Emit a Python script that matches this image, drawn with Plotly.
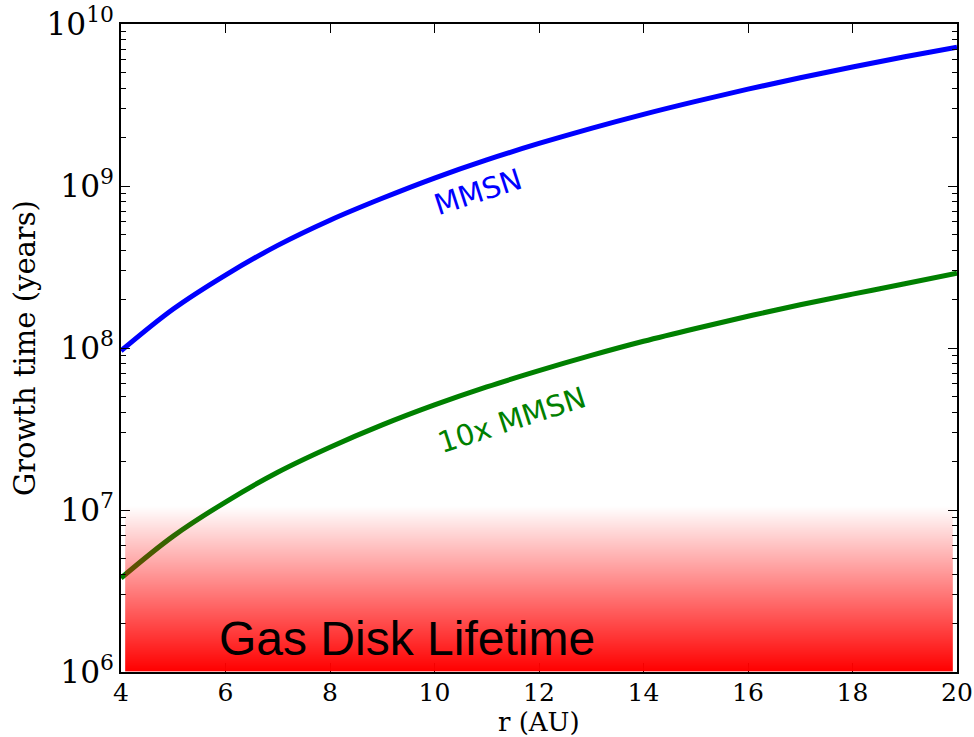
import base64
import struct
import zlib

import plotly.graph_objects as go

# Orbital radius (AU)
r_au = [4, 5, 6, 7, 8, 9, 10, 11, 12, 13, 14, 15, 16, 17, 18, 19, 20]

# Growth time (years) for the minimum-mass solar nebula
t_mmsn = [9.6e7, 1.74e8, 2.82e8, 4.3e8, 6.15e8, 8.4e8, 1.12e9, 1.45e9, 1.83e9,
          2.27e9, 2.77e9, 3.33e9, 3.96e9, 4.66e9, 5.43e9, 6.28e9, 7.2e9]

# Growth time (years) for a nebula ten times more massive
t_10x = [3.8e6, 6.9e6, 1.12e7, 1.71e7, 2.44e7, 3.35e7, 4.45e7, 5.75e7, 7.25e7,
         9.0e7, 1.1e8, 1.32e8, 1.57e8, 1.85e8, 2.15e8, 2.49e8, 2.9e8]

x_ticks = [4, 6, 8, 10, 12, 14, 16, 18, 20]


def gradient_png(width, height):
    """Vertical red band: opaque at the bottom, transparent at the top."""
    raw = bytearray()
    for row in range(height):
        alpha = int(round(255 * row / (height - 1)))
        raw.append(0)
        raw.extend(bytes([255, 0, 0, alpha]) * width)

    def chunk(tag, data):
        c = struct.pack(">I", len(data)) + tag + data
        return c + struct.pack(">I", zlib.crc32(tag + data) & 0xFFFFFFFF)

    png = b"\x89PNG\r\n\x1a\n"
    png += chunk(b"IHDR", struct.pack(">IIBBBBB", width, height, 8, 6, 0, 0, 0))
    png += chunk(b"IDAT", zlib.compress(bytes(raw), 9))
    png += chunk(b"IEND", b"")
    return "data:image/png;base64," + base64.b64encode(png).decode()


serif = "DejaVu Serif"
sans = "DejaVu Sans"

fig = go.Figure()
fig.add_trace(go.Scatter(x=r_au, y=t_mmsn, mode="lines",
                         line=dict(color="#0000ff", width=5, shape="spline"),
                         showlegend=False))
fig.add_trace(go.Scatter(x=r_au, y=t_10x, mode="lines",
                         line=dict(color="#008000", width=5, shape="spline"),
                         showlegend=False))

# Gas disk lifetime band, drawn over the curves
fig.add_layout_image(dict(
    source=gradient_png(4, 256),
    xref="paper", yref="paper",
    x=0.005, y=0.257, sizex=0.99, sizey=0.256,
    xanchor="left", yanchor="top",
    sizing="stretch", layer="above",
))

label_anchor = dict(xref="paper", yref="paper", showarrow=False,
                    xanchor="center", yanchor="middle", borderpad=0)
fig.add_annotation(x=0.342, y=0.052, text="Gas Disk Lifetime",
                   font=dict(family="Liberation Sans", size=48, color="black"),
                   **label_anchor)
fig.add_annotation(x=0.4270, y=0.740, text="MMSN", textangle=-18,
                   font=dict(family=sans, size=29, color="#0000ff"),
                   **label_anchor)
fig.add_annotation(x=0.4677, y=0.389, text="10x MMSN", textangle=-18,
                   font=dict(family=sans, size=29, color="#008000"),
                   **label_anchor)
# x-axis title, placed just below the tick labels
fig.add_annotation(x=0.5, y=-0.0775, text="r (AU)",
                   font=dict(family=serif, size=26, color="black"),
                   **label_anchor)

axis_common = dict(
    showline=True, linecolor="black", linewidth=2, mirror="allticks",
    ticks="inside", ticklen=9, tickwidth=1.2, tickcolor="black",
    showgrid=False, zeroline=False, automargin=False,
    tickfont=dict(family=serif, size=25, color="black"),
)

fig.update_xaxes(
    range=[4, 20], tickvals=x_ticks, ticktext=[str(v) for v in x_ticks],
    ticklabelstandoff=-3,
    **axis_common,
)
fig.update_yaxes(
    type="log", range=[6, 10], dtick=1, exponentformat="power",
    showexponent="all",
    minor=dict(ticks="inside", ticklen=5, tickwidth=1, tickcolor="black",
               dtick="D1", showgrid=False),
    title=dict(text="Growth time (years)",
               font=dict(family=serif, size=29, color="black"), standoff=2),
    **axis_common,
)

fig.update_layout(
    width=974, height=737,
    margin=dict(l=121, r=17, t=24, b=65),
    paper_bgcolor="white", plot_bgcolor="white",
)

fig.write_html("out.html")
